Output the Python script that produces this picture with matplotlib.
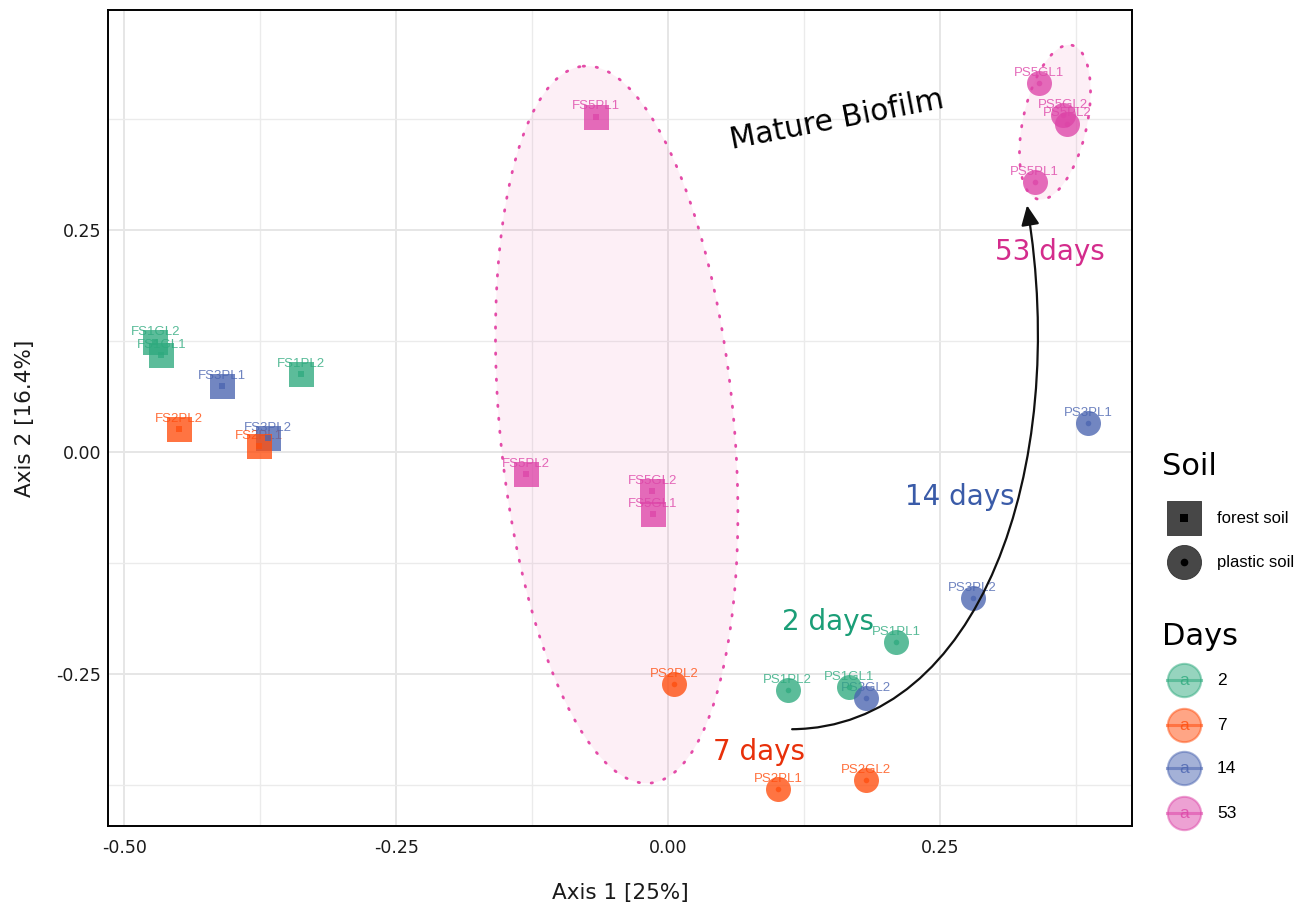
import numpy as np
import matplotlib
matplotlib.use('Agg')
import matplotlib.pyplot as plt
from matplotlib.patches import FancyArrowPatch
from matplotlib.path import Path

# ordination scores
samples = ['FS1GL2', 'FS1GL1', 'FS1PL2', 'FS3PL1', 'FS2PL2', 'FS3PL2', 'FS2PL1',
           'FS5PL1', 'FS5PL2', 'FS5GL2', 'FS5GL1',
           'PS5GL1', 'PS5GL2', 'PS5PL2', 'PS5PL1', 'PS3PL1', 'PS3PL2',
           'PS1PL1', 'PS1PL2', 'PS1GL1', 'PS3GL2', 'PS2PL2', 'PS2PL1', 'PS2GL2']
axis1 = [-0.4715, -0.466, -0.338, -0.410, -0.450, -0.3676, -0.376,
         -0.066, -0.131, -0.0147, -0.0138,
         0.341, 0.363, 0.3667, 0.337, 0.386, 0.280,
         0.2096, 0.110, 0.166, 0.182, 0.0055, 0.101, 0.182]
axis2 = [0.124, 0.109, 0.0878, 0.0743, 0.026, 0.0158, 0.0068,
         0.378, -0.025, -0.044, -0.070,
         0.4155, 0.3795, 0.370, 0.304, 0.0327, -0.164,
         -0.214, -0.268, -0.2646, -0.277, -0.261, -0.3795, -0.369]
soil = ['forest soil'] * 11 + ['plastic soil'] * 13
days = [2, 2, 2, 14, 7, 14, 7,
        53, 53, 53, 53,
        53, 53, 53, 53, 14, 14,
        2, 2, 2, 14, 7, 7, 7]

day_levels = [2, 7, 14, 53]
day_colors = {2: '#2EAA7E', 7: '#FF4D0D', 14: '#4A64B0', 53: '#DD45A8'}
soil_levels = ['forest soil', 'plastic soil']
soil_markers = {'forest soil': 's', 'plastic soil': 'o'}

# annotation texts
day_notes = ['2 days', '7 days', '14 days', '53 days']
day_note_x = [0.147, 0.0836, 0.268, 0.351]
day_note_y = [-0.191, -0.338, -0.051, 0.225]
day_note_colors = ['#1B9E77', '#E8300A', '#3A5BA8', '#D42C8C']

# ellipses (center, half-axis vectors) for the 53-day groups
ell_centers = [(-0.0473, 0.031), (0.3557, 0.3716)]
ell_axis_a = [(-0.0308, 0.4037), (0.0156, 0.0867)]
ell_axis_b = [(0.1071, 0.0123), (0.0287, -0.0078)]

# arrow from 7 days to mature biofilm (bezier control points)
arrow_x = [0.114, 0.285, 0.370, 0.330]
arrow_y = [-0.312, -0.310, -0.020, 0.278]

W, H = 1309, 905
fig = plt.figure(figsize=(W / 100, H / 100), dpi=100)
ax = fig.add_axes([108 / W, 1 - 826 / H, (1132 - 108) / W, (826 - 10) / H])

ax.set_xlim(-0.515, 0.4265)
ax.set_ylim(-0.421, 0.498)
ax.set_xticks([-0.5, -0.25, 0.0, 0.25])
ax.set_xticklabels(['-0.50', '-0.25', '0.00', '0.25'])
ax.set_yticks([-0.25, 0.0, 0.25])
ax.set_yticklabels(['-0.25', '0.00', '0.25'])
ax.set_xticks([-0.375, -0.125, 0.125, 0.375], minor=True)
ax.set_yticks([-0.375, -0.125, 0.125, 0.375], minor=True)
ax.grid(True, which='major', color='#E6E6E6', linewidth=1.4)
ax.grid(True, which='minor', color='#EBEBEB', linewidth=1.0)
ax.set_axisbelow(True)
ax.tick_params(which='both', length=0, labelsize=12.5, labelcolor='#1a1a1a')
ax.tick_params(axis='x', pad=9)
ax.tick_params(axis='y', pad=5)
for sp in ax.spines.values():
    sp.set_linewidth(1.4)
    sp.set_color('black')

ax.set_xlabel('Axis 1 [25%]', fontsize=15.5, labelpad=19, color='#1a1a1a')
ax.set_ylabel('Axis 2 [16.4%]', fontsize=15.5, labelpad=15, color='#1a1a1a')

# ellipses
t = np.linspace(0, 2 * np.pi, 300)
for c, a, b in zip(ell_centers, ell_axis_a, ell_axis_b):
    ex = c[0] + np.cos(t) * a[0] + np.sin(t) * b[0]
    ey = c[1] + np.cos(t) * a[1] + np.sin(t) * b[1]
    ax.fill(ex, ey, color='#E7298A', alpha=0.07, lw=0, zorder=1)
    ax.plot(ex, ey, color='#E44BA8', lw=2, dashes=(0.5, 4.2),
            dash_capstyle='round', zorder=2)

# points + labels
for name, x, y, s, d in zip(samples, axis1, axis2, soil, days):
    col = day_colors[d]
    ax.text(x, y + 0.0115, name, fontsize=9.5, color=col, alpha=0.8,
            ha='center', va='center', family='Liberation Sans', zorder=3)
    ax.scatter([x], [y], marker=soil_markers[s], s=18 ** 2, color=col,
               alpha=0.78, linewidths=0, zorder=4)
    ax.scatter([x], [y], marker=soil_markers[s], s=4 ** 2, color=col,
               alpha=0.75, linewidths=0, zorder=5)

for txt, x, y, col in zip(day_notes, day_note_x, day_note_y, day_note_colors):
    ax.text(x, y, txt, fontsize=20, color=col, ha='center', va='center', zorder=6)

ax.text(0.155, 0.374, 'Mature Biofilm', fontsize=21.5, rotation=11,
        ha='center', va='center', color='black', zorder=6)

path = Path(list(zip(arrow_x, arrow_y)),
            [Path.MOVETO, Path.CURVE4, Path.CURVE4, Path.CURVE4])
arrow = FancyArrowPatch(path=path, arrowstyle='-|>,head_length=12,head_width=5.5',
                        color='#111111', lw=1.6, zorder=7)
ax.add_patch(arrow)

# legend drawn in pixel coordinates
lax = fig.add_axes([0, 0, 1, 1], facecolor='none')
lax.set_xlim(0, W)
lax.set_ylim(H, 0)
lax.axis('off')

lx, tx = 1184, 1217
lax.text(1162, 466, 'Soil', fontsize=22, ha='left', va='center')
for yy, lvl in zip([518, 562], soil_levels):
    lax.scatter([lx], [yy], marker=soil_markers[lvl], s=24.5 ** 2,
                color='#474747', edgecolors='#333333', linewidths=0.6)
    lax.scatter([lx], [yy], marker=soil_markers[lvl], s=5.5 ** 2, color='black',
                linewidths=0)
    lax.text(tx, yy, lvl, fontsize=12, family='Liberation Sans', ha='left', va='center')

lax.text(1162, 636, 'Days', fontsize=22, ha='left', va='center')
for yy, d in zip([680, 725, 768, 813], day_levels):
    col = day_colors[d]
    lax.scatter([lx], [yy], marker='o', s=24 ** 2, color=col, alpha=0.5,
                edgecolors=col, linewidths=1.5)
    lax.plot([lx - 17, lx + 17], [yy, yy], color=col, alpha=0.55, lw=2.2)
    lax.text(lx, yy, 'a', fontsize=12.5, color=col, alpha=0.8, ha='center',
             va='center', family='Liberation Sans')
    lax.text(tx, yy, str(d), fontsize=12.5, family='Liberation Sans', ha='left', va='center')

fig.savefig('out.png', dpi=100)
